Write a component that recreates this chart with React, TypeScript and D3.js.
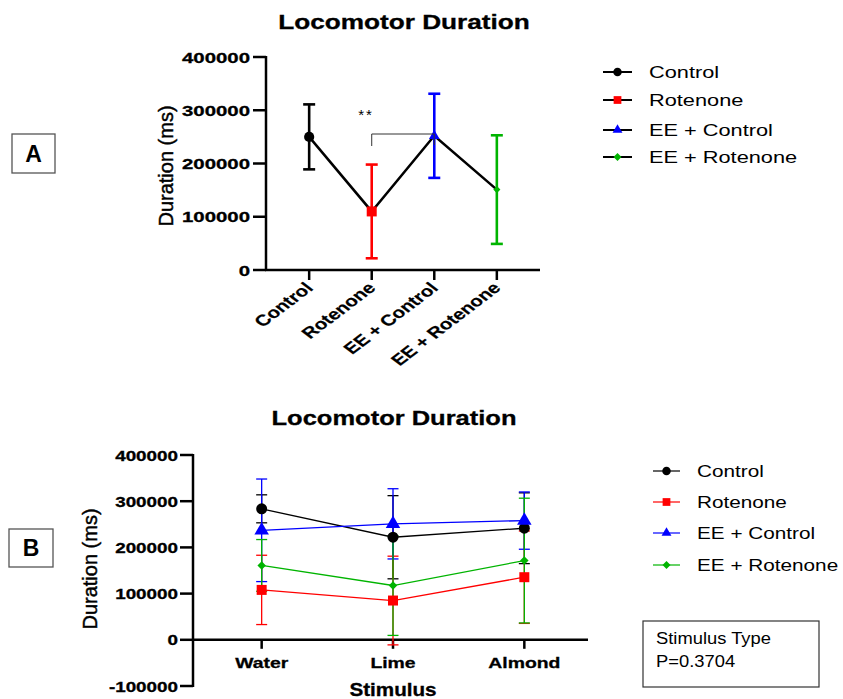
import React from 'react';
import * as d3 from 'd3';

// groups / colours shared by both panels
const groups = ['Control', 'Rotenone', 'EE + Control', 'EE + Rotenone'];
const groupColors = ['#000000', '#ff0000', '#0000ff', '#00b400'];
const groupShapes = ['circle', 'square', 'triangle', 'diamond'];

// panel A: one value per group
const meansA = [250000, 110000, 252000, 151000];
const sdA = [61000, 88000, 79000, 102000];
const ticksA = [0, 100000, 200000, 300000, 400000];

// panel B: per stimulus, per group
const stimuli = ['Water', 'Lime', 'Almond'];
const controlB = [283500, 222000, 241500];
const controlSdB = [30300, 90000, 76600];
const rotenoneB = [108000, 85000, 135500];
const rotenoneSdB = [75000, 96000, 100000];
const eeControlB = [237000, 251000, 258000];
const eeControlSdB = [111000, 76000, 62000];
const eeRotenoneB = [161000, 117500, 171500];
const eeRotenoneSdB = [56000, 108000, 135000];
const ticksB = [-100000, 0, 100000, 200000, 300000, 400000];

const FONT = '"Liberation Sans", Arial, sans-serif';

const seriesB = [
  { means: controlB, sd: controlSdB },
  { means: rotenoneB, sd: rotenoneSdB },
  { means: eeControlB, sd: eeControlSdB },
  { means: eeRotenoneB, sd: eeRotenoneSdB },
];

// text stretched sideways, the way the exported figure looks
const SText = ({ x, y, sx = 1, rotate = 0, anchor = 'start', size, weight = 'normal', children, fill = '#000', letterSpacing = 0, heavy = 0 }: any) => (
  <text
    transform={`translate(${x},${y}) scale(${sx},1)${rotate ? ` rotate(${rotate})` : ''}`}
    textAnchor={anchor}
    fontFamily={FONT}
    fontSize={size}
    fontWeight={weight}
    fill={fill}
    stroke={heavy ? fill : 'none'}
    strokeWidth={heavy}
    letterSpacing={letterSpacing}
  >
    {children}
  </text>
);

const Marker = ({ shape, x, y, color, scale = 1 }: any) => {
  let path;
  let rot = 0;
  if (shape === 'circle') path = d3.symbol(d3.symbolCircle, 95 * scale)();
  else if (shape === 'square') path = d3.symbol(d3.symbolSquare, 100 * scale)();
  else if (shape === 'triangle') path = d3.symbol(d3.symbolTriangle, 70 * scale)();
  else { path = d3.symbol(d3.symbolSquare, 36 * scale)(); rot = 45; }
  return <path d={path || ''} transform={`translate(${x},${y}) rotate(${rot})`} fill={color} />;
};

const ErrorBar = ({ x, yTop, yBot, color, width, cap }: any) => (
  <g stroke={color} strokeWidth={width} fill="none">
    <line x1={x} x2={x} y1={yTop} y2={yBot} />
    <line x1={x - cap} x2={x + cap} y1={yTop} y2={yTop} />
    <line x1={x - cap} x2={x + cap} y1={yBot} y2={yBot} />
  </g>
);

const PanelA = () => {
  const y = d3.scaleLinear().domain([0, 400000]).range([270, 57]);
  const x = d3.scalePoint<string>().domain(groups).range([266, 540]).padding(0.69);
  const fmt = d3.format('d');
  const line = d3.line<number>().x((d, i) => x(groups[i]) as number).y(d => y(d));

  return (
    <g>
      <SText x={404} y={29} sx={1.31} anchor="middle" size={20} weight="bold" heavy={0.3}>Locomotor Duration</SText>

      {/* y axis */}
      <line x1={266} x2={266} y1={56} y2={271} stroke="#000" strokeWidth={2.5} />
      {ticksA.map(t => (
        <g key={t}>
          <line x1={253} x2={266} y1={y(t)} y2={y(t)} stroke="#000" strokeWidth={2.5} />
          <SText x={250} y={y(t) + 5.5} sx={1.36} anchor="end" size={15} weight="bold" heavy={0.3}>{fmt(t)}</SText>
        </g>
      ))}
      <text transform="translate(173,166) rotate(-90)" textAnchor="middle" fontFamily={FONT} fontSize={20} stroke="#000" strokeWidth={0.45}>Duration (ms)</text>

      {/* x axis */}
      <line x1={265} x2={540} y1={270} y2={270} stroke="#000" strokeWidth={2.5} />
      {groups.map(g => (
        <g key={g}>
          <line x1={x(g)} x2={x(g)} y1={270} y2={280} stroke="#000" strokeWidth={2.5} />
          <SText x={(x(g) as number) + 5} y={289} sx={1.32} rotate={-45} anchor="end" size={15.5} weight="bold" heavy={0.2}>{g}</SText>
        </g>
      ))}

      <path d={line(meansA) || ''} fill="none" stroke="#000" strokeWidth={2.5} />
      {groups.map((g, i) => (
        <ErrorBar key={g} x={x(g)} yTop={y(meansA[i] + sdA[i])} yBot={y(meansA[i] - sdA[i])} color={groupColors[i]} width={2.6} cap={6} />
      ))}
      {groups.map((g, i) => (
        <Marker key={g} shape={groupShapes[i]} x={x(g)} y={y(meansA[i])} color={groupColors[i]} scale={i === 0 ? 0.85 : i === 1 ? 1 : 0.7} />
      ))}

      {/* significance bracket */}
      <path
        d={`M${x('Rotenone')},146 V134 H${x('EE + Control')} V145`}
        fill="none" stroke="#333" strokeWidth={1}
      />
      <SText x={366} y={120} anchor="middle" size={15} letterSpacing={2}>**</SText>

      {/* legend */}
      {groups.map((g, i) => {
        const ry = [72, 100, 130, 157][i];
        return (
          <g key={g}>
            <line x1={603} x2={632} y1={ry} y2={ry} stroke="#000" strokeWidth={2} />
            <Marker shape={groupShapes[i]} x={617.5} y={ry} color={groupColors[i]} scale={i === 3 ? 0.9 : 0.6} />
            <SText x={649} y={ry + 6} sx={1.28} size={17}>{g}</SText>
          </g>
        );
      })}

      <rect x={12} y={134} width={43} height={39} fill="none" stroke="#555" strokeWidth={1.3} />
      <SText x={33.5} y={162} anchor="middle" size={23} weight="bold">A</SText>
    </g>
  );
};

const PanelB = () => {
  const y = d3.scaleLinear().domain([-100000, 400000]).range([686, 455]);
  const x = d3.scalePoint<string>().domain(stimuli).range([196, 590]).padding(0.5);
  const fmt = d3.format('d');
  const line = d3.line<number>().x((d, i) => x(stimuli[i]) as number).y(d => y(d));
  const y0 = y(0);

  return (
    <g>
      <SText x={394} y={425} sx={1.275} anchor="middle" size={20} weight="bold" heavy={0.3}>Locomotor Duration</SText>

      <line x1={193} x2={193} y1={454} y2={687} stroke="#000" strokeWidth={2.5} />
      {ticksB.map(t => (
        <g key={t}>
          <line x1={180} x2={193} y1={y(t)} y2={y(t)} stroke="#000" strokeWidth={2.5} />
          <SText x={178} y={y(t) + 5.5} sx={1.3} anchor="end" size={14.5} weight="bold" heavy={0.3}>{t < 0 ? '-' + fmt(-t) : fmt(t)}</SText>
        </g>
      ))}
      <text transform="translate(97,569) rotate(-90)" textAnchor="middle" fontFamily={FONT} fontSize={20} stroke="#000" strokeWidth={0.45}>Duration (ms)</text>

      <line x1={192} x2={588} y1={y0} y2={y0} stroke="#000" strokeWidth={2.5} />
      {stimuli.map(s => (
        <g key={s}>
          <line x1={x(s)} x2={x(s)} y1={y0} y2={y0 + 9} stroke="#000" strokeWidth={2.5} />
          <SText x={x(s)} y={668} sx={1.25} anchor="middle" size={15.5} weight="bold" heavy={0.3}>{s}</SText>
        </g>
      ))}
      <SText x={393} y={696} sx={1.18} anchor="middle" size={17.5} weight="bold" heavy={0.3}>Stimulus</SText>

      {seriesB.map((s, gi) => (
        <g key={gi}>
          {stimuli.map((st, i) => (
            <ErrorBar key={st} x={x(st)} yTop={y(s.means[i] + s.sd[i])} yBot={y(s.means[i] - s.sd[i])} color={groupColors[gi]} width={1.3} cap={5.5} />
          ))}
        </g>
      ))}
      {seriesB.map((s, gi) => (
        <path key={gi} d={line(s.means) || ''} fill="none" stroke={groupColors[gi]} strokeWidth={1.3} />
      ))}
      {seriesB.map((s, gi) => (
        <g key={gi}>
          {stimuli.map((st, i) => (
            <Marker key={st} shape={groupShapes[gi]} x={x(st)} y={y(s.means[i])} color={groupColors[gi]} scale={gi === 2 ? 1.3 : 1} />
          ))}
        </g>
      ))}

      {groups.map((g, i) => {
        const ry = [471, 502, 533, 565][i];
        return (
          <g key={g}>
            <line x1={653} x2={680} y1={ry} y2={ry} stroke={groupColors[i]} strokeWidth={1.2} />
            <Marker shape={groupShapes[i]} x={666.5} y={ry} color={groupColors[i]} scale={i === 3 ? 0.9 : 0.6} />
            <SText x={697} y={ry + 6} sx={1.22} size={17}>{g}</SText>
          </g>
        );
      })}

      <rect x={643} y={621} width={176} height={66} fill="none" stroke="#333" strokeWidth={1.2} />
      <SText x={656} y={644} sx={1.08} size={17}>Stimulus Type</SText>
      <SText x={656} y={667} sx={1.08} size={17}>P=0.3704</SText>

      <rect x={9} y={529} width={44} height={38} fill="none" stroke="#555" strokeWidth={1.3} />
      <SText x={31} y={556} anchor="middle" size={23} weight="bold">B</SText>
    </g>
  );
};

export default function App() {
  return (
    <svg width={843} height={699} style={{ position: 'absolute', left: 0, top: 0, background: '#fff' }}>
      <rect width={843} height={699} fill="#fff" />
      <PanelA />
      <PanelB />
    </svg>
  );
}
